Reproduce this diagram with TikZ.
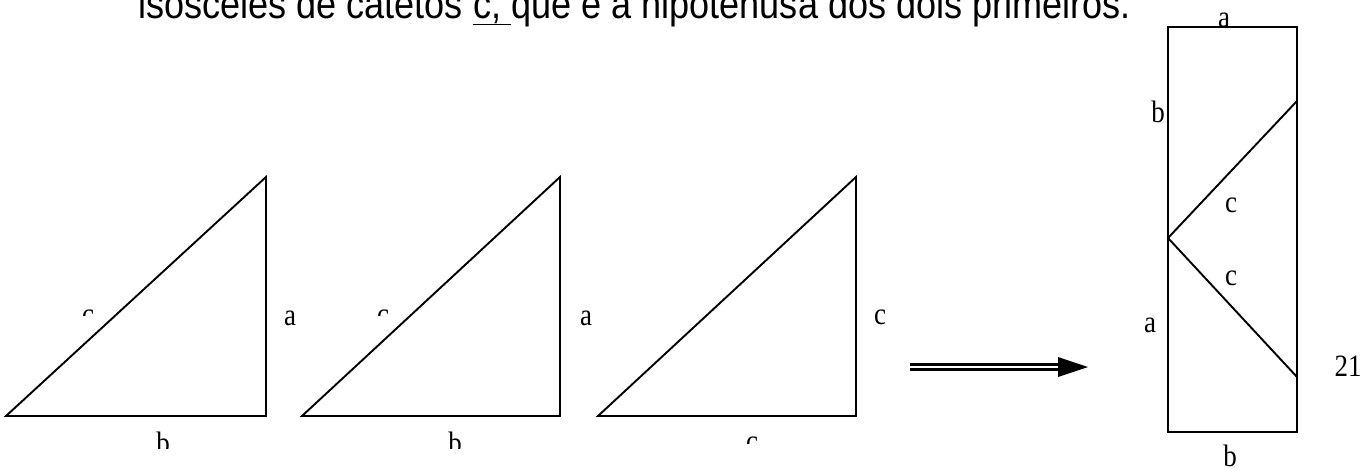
\documentclass[tikz,border=0pt]{standalone}
\usepackage{fontspec}
\setmainfont{Liberation Serif}
\newfontfamily\lblfont{Liberation Serif}[FakeStretch=0.87]
\newfontfamily\titlefont{Liberation Sans}[FakeStretch=0.88]
\usetikzlibrary{arrows.meta}

\begin{document}
\begin{tikzpicture}[
  x=1pt,y=-1pt,
  edge/.style={draw=black,line width=1.9pt,line join=miter},
  lbl/.style={inner sep=0pt,font=\lblfont\fontsize{31}{34}\selectfont},
  dblline/.style={draw=black,line width=2.2pt,double=white,double distance=2.8pt}
]
\useasboundingbox (0,0) rectangle (1368,469);
\node[anchor=base west,inner sep=0pt,font=\titlefont\fontsize{41}{44}\selectfont] (title) at (138,18)
  {isósceles de catetos \underline{c,\ }que é a hipotenusa dos dois primeiros.};

\coordinate (p1) at (6,416);   \coordinate (q1) at (266,416); \coordinate (r1) at (266,177);
\coordinate (p2) at (302,416); \coordinate (q2) at (560,416); \coordinate (r2) at (560,177);
\coordinate (p3) at (598,416); \coordinate (q3) at (856,416); \coordinate (r3) at (856,177);
\draw[edge] (p1) -- (q1) -- (r1) -- cycle;
\draw[edge] (p2) -- (q2) -- (r2) -- cycle;
\draw[edge] (p3) -- (q3) -- (r3) -- cycle;

\node[lbl] (a1) at (290,318) {a};
\node[lbl] (a2) at (586,318) {a};
\node[lbl] (c3) at (880,317) {c};
\begin{scope}
  \clip (0,0) rectangle (1368,315.5);
  \node[lbl] (h1) at (88,317) {c};
  \node[lbl] (h2) at (383,317) {c};
\end{scope}
\begin{scope}
  \clip (0,0) rectangle (1368,448);
  \node[lbl,anchor=north] (b1) at (163,432) {b};
  \node[lbl,anchor=north] (b2) at (455,432) {b};
\end{scope}
\begin{scope}
  \clip (0,0) rectangle (1368,443.5);
  \node[lbl,anchor=north] (d3) at (752,437) {c};
\end{scope}

\coordinate (arrS) at (910,367);
\coordinate (arrB) at (1058,367);
\coordinate (arrE) at (1088,367);
\draw[dblline] (arrS) -- (arrB);
\fill ([yshift=-10pt]arrB) -- (arrE) -- ([yshift=10pt]arrB) -- cycle;

\coordinate (ra) at (1168,27);  \coordinate (rb) at (1297,432);
\coordinate (tip) at (1168,238);
\coordinate (up) at (1297,101); \coordinate (lo) at (1297,377);
\draw[edge] (ra) rectangle (rb);
\draw[edge] (up) -- (tip) -- (lo);

\node[lbl] (ta) at (1224,20) {a};
\node[lbl] (lb) at (1158,112) {b};
\node[lbl] (uc) at (1231,205) {c};
\node[lbl] (lc) at (1231,278) {c};
\node[lbl] (la) at (1150,325) {a};
\node[lbl] (num) at (1348,366) {21};
\node[lbl] (bb) at (1230,456) {b};
\end{tikzpicture}
\end{document}
